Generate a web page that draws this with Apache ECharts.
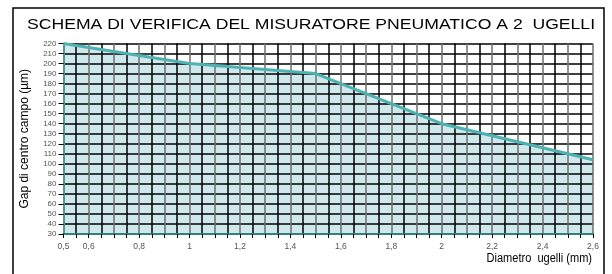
<!DOCTYPE html>
<html><head><meta charset="utf-8">
<script src="https://cdn.jsdelivr.net/npm/echarts@6/dist/echarts.min.js"></script>
<style>html,body{margin:0;padding:0;background:#fff}#c{width:612px;height:274px}</style>
</head><body><div id="c"></div>
<script>
const titleText = 'SCHEMA DI VERIFICA DEL MISURATORE PNEUMATICO A 2  UGELLI';
const yAxisName = 'Gap di centro campo (µm)';
const xAxisName = 'Diametro  ugelli (mm)';
const diameters = [0.5, 1.0, 1.5, 2.0, 2.2, 2.6];
const gaps = [220, 200, 190, 140, 128, 104];
const xLabelValues = [0.5, 0.6, 0.8, 1.0, 1.2, 1.4, 1.6, 1.8, 2.0, 2.2, 2.4, 2.6];

const data = diameters.map((d, i) => [d, gaps[i]]);
const font = '"Liberation Sans", Arial, sans-serif';
const chart = echarts.init(document.getElementById('c'), null, {renderer: 'canvas'});
chart.setOption({
  animation: false,
  grid: {left: 63.5, right: 19, top: 43.5, bottom: 40},
  xAxis: {
    type: 'value', min: 0.5, max: 2.6, interval: 0.05, z: 2,
    axisLine: {lineStyle: {color: '#2f8080', width: 2}},
    axisTick: {show: true, length: 4, lineStyle: {color: '#000', width: 1}},
    axisLabel: {
      fontFamily: font, fontSize: 8.5, color: '#555', margin: 8, showMinLabel: true, showMaxLabel: true,
      formatter: v => {
        const hit = xLabelValues.find(x => Math.abs(x - v) < 1e-6);
        return hit === undefined ? '' : String(+hit.toFixed(2)).replace('.', ',');
      }
    },
    splitLine: {show: true, lineStyle: {color: ['#6e6e6e', '#000'], width: 1.5}}
  },
  yAxis: {
    type: 'value', min: 30, max: 220, interval: 10, z: 2,
    name: yAxisName, nameLocation: 'middle', nameGap: 33,
    nameTextStyle: {fontFamily: font, fontSize: 12, color: '#000'},
    axisLine: {show: true, lineStyle: {color: '#3a9a9a', width: 1.5}},
    axisTick: {show: true, length: 5, lineStyle: {color: '#000', width: 1}},
    axisLabel: {fontFamily: font, fontSize: 8, color: '#555', margin: 7},
    splitLine: {show: true, lineStyle: {color: '#000', width: 1.5}}
  },
  series: [
    {type: 'line', data: data, z: 1, symbol: 'none', lineStyle: {width: 0},
     areaStyle: {color: '#cfe8ec', opacity: 1}},
    {type: 'line', data: data, z: 3, symbol: 'none', lineStyle: {color: '#4fb2b2', width: 3}}
  ],
  graphic: [
    {type: 'rect', shape: {x: 13, y: 8, width: 591, height: 280}, style: {fill: 'none', stroke: '#000', lineWidth: 1.5}, z: 10},
    {type: 'text', x: 27, y: 25, scaleX: 1.173, z: 10,
     style: {text: titleText, x: 0, y: 0, verticalAlign: 'middle', fontFamily: font, fontSize: 15, fill: '#000'}},
    {type: 'text', x: 592, y: 259, scaleX: 0.92, z: 10,
     style: {text: xAxisName, x: 0, y: 0, align: 'right', verticalAlign: 'middle', fontFamily: font, fontSize: 12, fill: '#000'}}
  ]
});
</script></body></html>
